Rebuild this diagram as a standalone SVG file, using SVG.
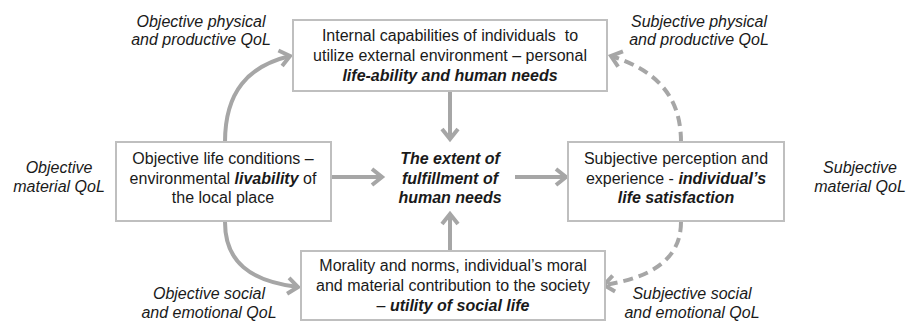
<svg xmlns="http://www.w3.org/2000/svg" width="906" height="322" viewBox="0 0 906 322">
<defs>
<style>
text{font-family:"Liberation Sans",Arial,sans-serif;font-size:16px;fill:#1a1a1a;text-anchor:middle}
.lbl{font-style:italic}
.bi{font-weight:bold;font-style:italic}
.box{fill:#fff;stroke:#bfbfbf;stroke-width:2}
.arr{fill:none;stroke:#a6a6a6;stroke-width:4}
.dash{stroke-dasharray:10 6}
</style>
<marker id="ah" markerUnits="userSpaceOnUse" markerWidth="30" markerHeight="30" viewBox="-15 -15 30 30" refX="0" refY="0" orient="auto" overflow="visible">
<path d="M-10,-8 L0,0 L-10,8" fill="none" stroke="#a6a6a6" stroke-width="4" stroke-dasharray="none"/>
</marker>
</defs>
<rect width="906" height="322" fill="#fff"/>
<g id="connectors">
<path class="arr" d="M450,92 L450,139" marker-end="url(#ah)"/>
<path class="arr" d="M450,250 L450,214" marker-end="url(#ah)"/>
<path class="arr" d="M332,177 L382,177" marker-end="url(#ah)"/>
<path class="arr" d="M515,177 L566,177" marker-end="url(#ah)"/>
<path class="arr" d="M225,142 C225,92 248,66 290,56" marker-end="url(#ah)"/>
<path class="arr" d="M225,222 C225,262 250,281 298,287" marker-end="url(#ah)"/>
<path class="arr dash" d="M681,142 C681,95 655,70 611,56" marker-end="url(#ah)"/>
<path class="arr dash" d="M681,222 C681,260 650,278 604,285" marker-end="url(#ah)"/>
</g>
<g id="top">
<rect class="box" x="293" y="20" width="314" height="71"/>
<text x="450" y="41" style="white-space:pre">Internal capabilities of individuals  to</text>
<text x="450" y="61">utilize external environment – personal</text>
<text x="450" y="81" class="bi">life-ability and human needs</text>
</g>
<g id="left">
<rect class="box" x="116" y="142" width="215" height="79"/>
<text x="223" y="164">Objective life conditions –</text>
<text x="223" y="184">environmental <tspan class="bi">livability</tspan> of</text>
<text x="223" y="203">the local place</text>
</g>
<g id="right">
<rect class="box" x="568" y="142" width="216" height="79"/>
<text x="676" y="164">Subjective perception and</text>
<text x="676" y="184">experience - <tspan class="bi">individual’s</tspan></text>
<text x="676" y="203" class="bi">life satisfaction</text>
</g>
<g id="bottom">
<rect class="box" x="301" y="251" width="304" height="69"/>
<text x="453" y="271">Morality and norms, individual’s moral</text>
<text x="453" y="291">and material contribution to the society</text>
<text x="453" y="311">– <tspan class="bi">utility of social life</tspan></text>
</g>
<g id="center">
<text x="450" y="164" class="bi">The extent of</text>
<text x="450" y="184" class="bi">fulfillment of</text>
<text x="450" y="203" class="bi">human needs</text>
</g>
<g id="labels">
<text class="lbl" x="201" y="27">Objective physical</text>
<text class="lbl" x="201" y="45">and productive QoL</text>
<text class="lbl" x="699" y="27">Subjective physical</text>
<text class="lbl" x="699" y="45">and productive QoL</text>
<text class="lbl" x="59" y="173">Objective</text>
<text class="lbl" x="59" y="192">material QoL</text>
<text class="lbl" x="860" y="173">Subjective</text>
<text class="lbl" x="860" y="192">material QoL</text>
<text class="lbl" x="209" y="299">Objective social</text>
<text class="lbl" x="209" y="318">and emotional QoL</text>
<text class="lbl" x="692" y="299">Subjective social</text>
<text class="lbl" x="692" y="318">and emotional QoL</text>
</g>
</svg>
